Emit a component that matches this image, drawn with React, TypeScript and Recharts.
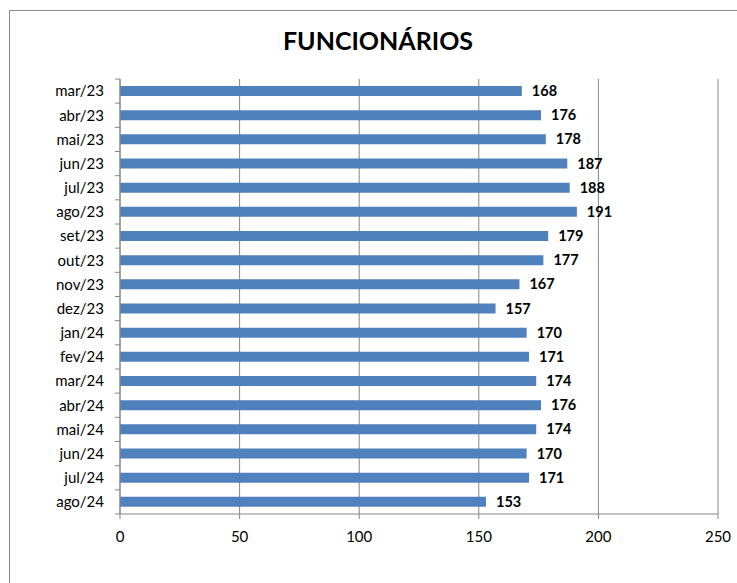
import React from 'react';
import { BarChart, Bar, XAxis, YAxis, CartesianGrid, LabelList } from 'recharts';

const months = ['mar/23','abr/23','mai/23','jun/23','jul/23','ago/23','set/23','out/23','nov/23','dez/23','jan/24','fev/24','mar/24','abr/24','mai/24','jun/24','jul/24','ago/24'];
const employees = [168,176,178,187,188,191,179,177,167,157,170,171,174,176,174,170,171,153];
const xTicks = [0,50,100,150,200,250];

const data = months.map((m, i) => ({ month: m, value: employees[i] }));

const W = 737;
const H = 583;
const X_AXIS_H = 30;
const MARGIN = { top: 79, right: 19, bottom: 69 - X_AXIS_H, left: 10 };
const BAND = (H - MARGIN.top - MARGIN.bottom - X_AXIS_H) / months.length;
const FONT = 'Lato, "Open Sans", sans-serif';
const AXIS = '#868686';

const YTick = (props: any) => {
  const { x, y, payload, index } = props;
  const ax = x + 16;
  return (
    <g>
      <line x1={ax - 5} x2={ax} y1={y - BAND / 2} y2={y - BAND / 2} stroke={AXIS} strokeWidth={1} />
      {index === months.length - 1 && (
        <line x1={ax - 5} x2={ax} y1={y + BAND / 2} y2={y + BAND / 2} stroke={AXIS} strokeWidth={1} />
      )}
      <text x={x} y={y} dy="0.35em" textAnchor="end" fontSize={15} fill="#000" fontFamily={FONT}>
        {payload.value}
      </text>
    </g>
  );
};

export default function App() {
  return (
    <div style={{ position: 'absolute', left: 0, top: 0, width: W, height: H, overflow: 'hidden', background: '#fff' }}>
      <div style={{ position: 'absolute', left: 9, top: 10, width: 900, height: 900, borderTop: '1px solid #8a8a8a', borderLeft: '1px solid #8a8a8a' }} />
      <div style={{ position: 'absolute', left: 0, top: 25, width: 756, textAlign: 'center', fontFamily: FONT, fontWeight: 700, fontSize: 25, color: '#000' }}>
        FUNCIONÁRIOS
      </div>
      <div style={{ position: 'absolute', left: 0, top: 0 }}>
        <BarChart width={W} height={H} data={data} layout="vertical" margin={MARGIN}>
          <CartesianGrid horizontal={false} vertical={true} stroke={AXIS} strokeWidth={1} />
          <XAxis
            type="number"
            domain={[0, 250]}
            ticks={xTicks}
            interval={0}
            height={X_AXIS_H}
            stroke={AXIS}
            tickSize={5}
            tickMargin={12}
            tick={{ fill: '#000', fontSize: 15, fontFamily: FONT }}
          />
          <YAxis
            type="category"
            dataKey="month"
            width={110}
            stroke={AXIS}
            tickLine={false}
            tickSize={5}
            tickMargin={11}
            interval={0}
            tick={<YTick />}
          />
          <Bar dataKey="value" fill="#4F81BD" barSize={10} isAnimationActive={false}>
            <LabelList dataKey="value" position="right" offset={10} fill="#000" fontSize={14.5} fontWeight={700} fontFamily={FONT} />
          </Bar>
        </BarChart>
      </div>
    </div>
  );
}
